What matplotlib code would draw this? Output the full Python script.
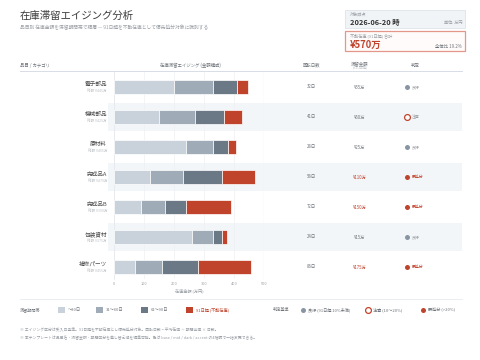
import matplotlib
matplotlib.use("Agg")
import matplotlib.pyplot as plt
from matplotlib.patches import Rectangle
from matplotlib.lines import Line2D

plt.rcParams['font.family'] = ['Noto Sans CJK JP', 'DejaVu Sans']

categories = ["電子部品", "機械部品", "原材料", "完成品A", "完成品B", "包装資材", "補修パーツ"]
b0_30 = [200, 150, 240, 120, 90, 260, 70]
b31_60 = [130, 120, 90, 110, 80, 70, 90]
b61_90 = [80, 95, 50, 130, 70, 30, 120]
b91 = [35, 60, 25, 110, 150, 15, 175]
turnover_days = [32, 41, 28, 58, 72, 24, 86]
status = ["良好", "注意", "良好", "要処分", "要処分", "良好", "要処分"]
band_labels = ["〜30日", "31〜60日", "61〜90日", "91日超 (不動在庫)"]
xticks = [0, 100, 200, 300, 400, 500]

C1, C2, C3, CR = "#c9d2da", "#9fabb6", "#6b7886", "#c0432c"
TXT, GRAY, LGRAY = "#444444", "#999ea4", "#bfc3c8"
MID = "#6f747a"
W, H = 480, 360

fig = plt.figure(figsize=(4.8, 3.6), dpi=100)
fig.patch.set_facecolor("white")

def fx(x): return x / W
def fy(y): return 1 - y / H

def txt(x, y, s, **kw):
    kw.setdefault("color", TXT)
    kw.setdefault("va", "center")
    fig.text(fx(x), fy(y), s, **kw)

def hline(y, x0=20, x1=462, color="#e3e7eb", lw=0.6):
    fig.add_artist(Line2D([fx(x0), fx(x1)], [fy(y), fy(y)], color=color, lw=lw, transform=fig.transFigure))

def dot(x, y, kind, size=3.6):
    if kind == "良好":
        fig.add_artist(Line2D([fx(x)], [fy(y)], marker="o", markersize=size, color="#8896a3",
                              markeredgewidth=0, transform=fig.transFigure))
    elif kind == "注意":
        fig.add_artist(Line2D([fx(x)], [fy(y)], marker="o", markersize=size + 0.6, markerfacecolor="white",
                              markeredgecolor=CR, markeredgewidth=0.9, transform=fig.transFigure))
    else:
        fig.add_artist(Line2D([fx(x)], [fy(y)], marker="o", markersize=size, color=CR,
                              markeredgewidth=0, transform=fig.transFigure))

# Title
txt(20, 16, "在庫滞留エイジング分析", fontsize=7.5, color="#3a3a3a")
txt(20, 28, "品目別 在庫金額を滞留期間帯で積層 — 91日超を不動在庫として優先処分対象に識別する", fontsize=3.4, color=GRAY)

# Info boxes
fig.add_artist(Rectangle((fx(345), fy(28)), fx(120), 18 / H, transform=fig.transFigure,
                         facecolor="#f1f4f7", edgecolor="#dfe4e9", lw=0.6))
txt(350, 14.5, "対象時点", fontsize=3, color=GRAY)
txt(350, 22, "2026-06-20 時", fontsize=5.3, fontweight="bold", color="#333333")
txt(462, 22.5, "単位: 万円", fontsize=3, color=GRAY, ha="right")
fig.add_artist(Rectangle((fx(345), fy(51)), fx(120), 20 / H, transform=fig.transFigure,
                         facecolor="#fffbfa", edgecolor="#e3978a", lw=0.9))
txt(350, 35.5, "不動在庫 (91日超) 合計", fontsize=3, color=GRAY)
total_red = sum(b91)
total_all = sum(b0_30) + sum(b31_60) + sum(b61_90) + sum(b91)
txt(350, 45, f"¥{total_red}万", fontsize=6.8, fontweight="bold", color=CR)
txt(462, 46, f"全体比 {total_red / total_all * 100:.1f}%", fontsize=3.2, color=MID, ha="right")

# Header
txt(20, 65, "品目 / カテゴリ", fontsize=3.2, color=MID)
txt(190, 65, "在庫滞留エイジング (金額構成)", fontsize=3.2, color=MID, ha="center")
txt(311, 65, "回転日数", fontsize=3.2, color=MID, ha="center")
txt(360, 63.5, "滞留金額", fontsize=3.2, color=MID, ha="center")
txt(360, 67.5, "(91+日超)", fontsize=2.5, color=LGRAY, ha="center")
txt(415, 65, "判定", fontsize=3.2, color=MID, ha="center")
hline(70.5, color="#d8dce8", lw=0.7)

# Row shading
row0, dy = 87, 30
for i in range(len(categories)):
    if i % 2 == 1:
        yc = row0 + i * dy
        fig.add_artist(Rectangle((fx(108), fy(yc + 14)), fx(462 - 108), 28 / H, transform=fig.transFigure,
                                 facecolor="#f3f6f8", edgecolor="none", zorder=-1))

# Bars axes
top_px, bot_px = 72, 279
ax = fig.add_axes([fx(114), fy(bot_px), fx(150), (bot_px - top_px) / H])
ax.set_facecolor("none")
ypos = list(range(len(categories)))
left = [0] * len(categories)
for vals, col in zip([b0_30, b31_60, b61_90, b91], [C1, C2, C3, CR]):
    ax.barh(ypos, vals, left=left, height=0.45, color=col, edgecolor="white", linewidth=0.5, zorder=3)
    left = [l + v for l, v in zip(left, vals)]
ax.set_xlim(0, 500)
ax.set_ylim(len(categories) - 0.6, -0.5)
ax.set_xticks(xticks)
ax.set_xticklabels([str(t) for t in xticks], fontsize=2.8, color=GRAY)
ax.tick_params(axis="x", length=0, pad=2)
ax.set_yticks([])
ax.grid(axis="x", color="#eef0f3", lw=0.5, zorder=0)
for s in ["top", "right", "bottom"]:
    ax.spines[s].set_visible(False)
ax.spines["left"].set_color("#e6e9ed")
ax.spines["left"].set_linewidth(0.6)
ax.axvline(500, color="#eef1f4", lw=1.0, zorder=0)
ax.set_xlabel("在庫金額 (万円)", fontsize=3, color=GRAY, labelpad=2)

# Row texts
for i, cat in enumerate(categories):
    yc = row0 + i * dy
    tot = b0_30[i] + b31_60[i] + b61_90[i] + b91[i]
    txt(107, yc - 2.5, cat, fontsize=4.1, color="#4a4a4a", ha="right")
    txt(107, yc + 4, f"総額 ¥{tot}万", fontsize=2.6, color=LGRAY, ha="right")
    txt(311, yc, f"{turnover_days[i]}日", fontsize=3.1, color=MID, ha="center")
    red = status[i] == "要処分"
    txt(360, yc, f"¥{b91[i]}万", fontsize=3.1, color=CR if red else MID, ha="center")
    dot(406.5, yc, status[i])
    txt(411.5, yc, status[i], fontsize=2.8, color=CR if red else GRAY)

hline(299, color="#e8ebee", lw=0.6)

# Legend
txt(20, 310, "滞留期間帯", fontsize=3, color=MID)
leg_x = [58, 96, 141, 186]
for x, lab, col in zip(leg_x, band_labels, [C1, C2, C3, CR]):
    fig.add_artist(Rectangle((fx(x), fy(313)), fx(7), 6 / H, transform=fig.transFigure,
                             facecolor=col, edgecolor="none"))
    txt(x + 10, 310, lab, fontsize=3, color=CR if col == CR else MID)
txt(273, 310, "判定基準", fontsize=3, color=MID)
dot(303, 310, "良好")
txt(308, 310, "良好 (91日超 10%未満)", fontsize=3, color=MID)
dot(368, 310, "注意")
txt(373, 310, "注意 (10〜20%)", fontsize=3, color=MID)
dot(423, 310, "要処分")
txt(428, 310, "要処分 (>20%)", fontsize=3, color=MID)

# Notes
txt(20, 330, "※ エイジング区分は受入日基準。91日超を不動在庫とし優先処分対象。回転日数 = 平均在庫 ÷ 期間出庫 × 日数。", fontsize=2.8, color=GRAY)
txt(20, 338, "※ 本テンプレートは品目名・滞留金額・期間区分を差し替え値を編集可能。色は base / mid / dark / accent の4階調で一括変更できる。", fontsize=2.8, color=GRAY)

fig.savefig("out.png", dpi=100, facecolor="white")
